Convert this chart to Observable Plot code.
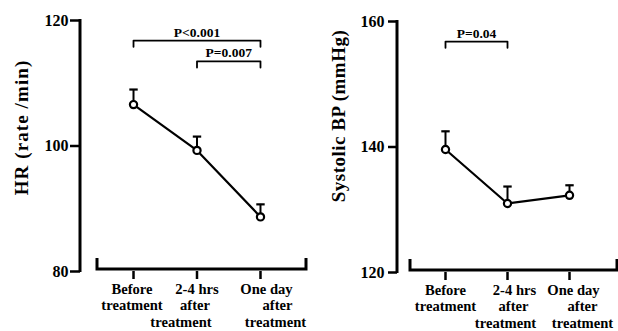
<!DOCTYPE html>
<html><head><meta charset="utf-8">
<script src="https://cdn.jsdelivr.net/npm/d3@7"></script>
<script src="https://cdn.jsdelivr.net/npm/@observablehq/plot@0.6"></script>
<style>
body{margin:0;background:#fff}
#wrap{position:relative;width:618px;height:331px;overflow:hidden;background:#fff}
#left,#right{position:absolute;top:0}
#left{left:0}
#right{left:310px}
.ylab-l text{letter-spacing:1.1px}
.ylab-r text{letter-spacing:0.5px}
</style></head><body>
<div id="wrap"><div id="left"></div><div id="right"></div></div>
<script>
// ---- data ----
const categories = ["Before", "2-4 hrs", "One day"];
const categoryLabels = ["Before\ntreatment", "2-4 hrs\nafter\ntreatment", "One day\nafter\ntreatment"];
const hrMean = [106.6, 99.3, 88.7];
const hrSem = [2.4, 2.2, 2.0];
const sbpMean = [139.6, 131.0, 132.3];
const sbpSem = [2.9, 2.7, 1.6];
const hrTicks = [80, 100, 120];
const sbpTicks = [120, 140, 160];
const hrComparisons = [
  {from: "Before", to: "One day", label: "P<0.001"},
  {from: "2-4 hrs", to: "One day", label: "P=0.007"}
];
const sbpComparisons = [
  {from: "Before", to: "2-4 hrs", label: "P=0.04"}
];
const hrLabel = "HR (rate /min)";
const sbpLabel = "Systolic BP (mmHg)";

// ---- helpers ----
const capSymbol = {
  draw(ctx, size) {
    const h = Math.sqrt(size / Math.PI);
    ctx.moveTo(-h, 0);
    ctx.lineTo(h, 0);
  }
};

function axisFrame(insetLeft, insetRight, rise) {
  return (index, scales, values, dims) => {
    const {width, height, marginLeft, marginRight, marginTop, marginBottom} = dims;
    const bottom = height - marginBottom;
    const g = d3.create("svg:g").attr("fill", "none").attr("stroke", "black").attr("stroke-width", 3);
    g.append("path").attr("d", `M${marginLeft},${marginTop - 1}V${bottom + 1}`);
    const yb = bottom - 2;
    g.append("path").attr("d", `M${marginLeft + insetLeft},${yb - rise}V${yb}H${width - marginRight - insetRight}V${yb - rise}`);
    return g.node();
  };
}

function categoryText(offsets) {
  return categoryLabels.flatMap((lab, i) => lab.split("\n").map((line, j) =>
    Plot.text([i], {x: d => d, text: [line], frameAnchor: "bottom", textAnchor: "middle", lineAnchor: "middle",
      dx: offsets[i][j], dy: 17.5 + j * 16.8, fontSize: 14.6, fontWeight: "bold", fill: "black"})
  ));
}

function panel(cfg) {
  const rows = categories.map((c, i) => ({i, cat: c, mean: cfg.mean[i], upper: cfg.mean[i] + cfg.sem[i]}));
  const yMax = d3.max(cfg.ticks);
  const comps = cfg.comparisons.map((c, k) => {
    const a = categories.indexOf(c.from), b = categories.indexOf(c.to);
    return {...c, a, b, mid: (a + b) / 2, level: yMax - 3.2 - k * 3.3};
  });
  const bracketPts = comps.flatMap(c => [
    {x: c.a, y: c.level - 1, z: c.label},
    {x: c.a, y: c.level, z: c.label},
    {x: c.b, y: c.level, z: c.label},
    {x: c.b, y: c.level - 1, z: c.label}
  ]);
  return Plot.plot({
    width: cfg.width,
    height: 331,
    marginLeft: cfg.marginLeft,
    marginRight: cfg.marginRight,
    marginTop: cfg.marginTop,
    marginBottom: cfg.marginBottom,
    style: {fontFamily: "'Liberation Serif', 'Times New Roman', serif", color: "black", background: "transparent", overflow: "visible"},
    x: {type: "linear", domain: cfg.xDomain},
    y: {domain: d3.extent(cfg.ticks)},
    marks: [
      axisFrame(cfg.insetLeft, cfg.insetRight, 11),
      Plot.axisY({ticks: cfg.ticks, tickFormat: () => "", tickSize: cfg.tickSize, strokeWidth: 2.5, label: null}),
      Plot.text(cfg.ticks, {y: d => d, text: d => String(d), frameAnchor: "left", textAnchor: "end", lineAnchor: "middle",
        dx: -(cfg.tickSize + cfg.tickPadding), fontSize: 16, fontWeight: "bold", fill: "black"}),
      Plot.axisX({ticks: [0, 1, 2], tickFormat: () => "", tickSize: 8, strokeWidth: 2.5, label: null}),
      ...categoryText(cfg.labelOffsets),
      Plot.text([cfg.label], {text: d => d, frameAnchor: "left", textAnchor: "middle", lineAnchor: "middle",
        rotate: -90, dx: cfg.labelDx, dy: cfg.labelDy, fontSize: 19, fontWeight: "bold", fill: "black",
        className: cfg.labelClass}),
      Plot.line(bracketPts, {x: "x", y: "y", z: "z", stroke: "black", strokeWidth: 1.8}),
      Plot.text(comps, {x: "mid", y: "level", text: "label", dy: -4, lineAnchor: "bottom",
        fontSize: 13.5, fontWeight: "bold", fill: "black"}),
      Plot.line(rows, {x: "i", y: "mean", stroke: "black", strokeWidth: 2.2}),
      Plot.ruleX(rows, {x: "i", y1: "mean", y2: "upper", stroke: "black", strokeWidth: 2}),
      Plot.dot(rows, {x: "i", y: "upper", symbol: capSymbol, r: 4.2, stroke: "black", strokeWidth: 2.2, fill: "none"}),
      Plot.dot(rows, {x: "i", y: "mean", r: 3.6, stroke: "black", strokeWidth: 2.2, fill: "white"})
    ]
  });
}

document.getElementById("left").append(panel({
  width: 320, marginLeft: 80, marginRight: 11, marginTop: 20, marginBottom: 60,
  xDomain: [-0.835, 2.772], ticks: hrTicks, mean: hrMean, sem: hrSem,
  comparisons: hrComparisons, label: hrLabel, labelClass: "ylab-l",
  insetLeft: 17, insetRight: 3, tickSize: 10, tickPadding: 2,
  labelDx: -59, labelDy: -18.5,
  labelOffsets: [[-1.5, -1.5], [0, -2, -16], [6, 17, 15]]
}));

document.getElementById("right").append(panel({
  width: 308, marginLeft: 87, marginRight: 0, marginTop: 21, marginBottom: 59,
  xDomain: [-0.774, 2.79], ticks: sbpTicks, mean: sbpMean, sem: sbpSem,
  comparisons: sbpComparisons, label: sbpLabel, labelClass: "ylab-r",
  insetLeft: 13, insetRight: 1, tickSize: 9, tickPadding: 4,
  labelDx: -59, labelDy: -31,
  labelOffsets: [[0, 0], [7, 6, -2], [4, 13, 13]]
}));
</script>
</body></html>
